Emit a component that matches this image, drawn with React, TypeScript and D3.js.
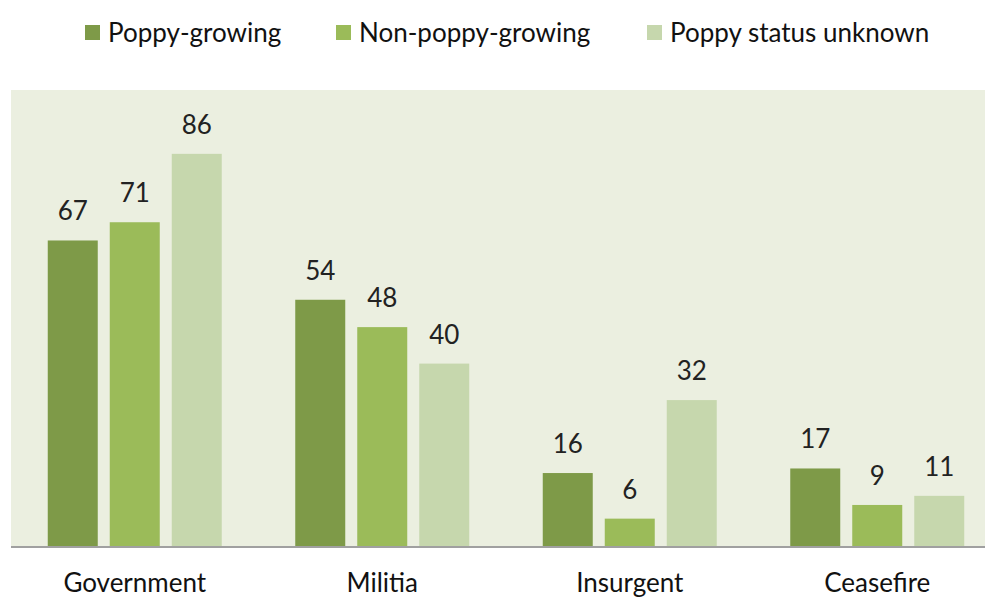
import React from "react";
import * as d3 from "d3";

const categories = ["Government", "Militia", "Insurgent", "Ceasefire"];
const seriesNames = ["Poppy-growing", "Non-poppy-growing", "Poppy status unknown"];
const poppyGrowing = [67, 54, 16, 17];
const nonPoppyGrowing = [71, 48, 6, 9];
const poppyUnknown = [86, 40, 32, 11];
const colors = ["#7e9a48", "#9bbb59", "#c6d7ad"];

const W = 985;
const H = 597;
const FONT = "Lato, 'Open Sans', sans-serif";

export default function App() {
  const series = [poppyGrowing, nonPoppyGrowing, poppyUnknown];
  const plotLeft = 11;
  const plotRight = 1001;
  const plotTop = 90;
  const baseY = 546;
  const x0 = d3.scaleBand<string>().domain(categories).range([plotLeft, plotRight]).paddingInner(0).paddingOuter(0);
  const groupW = 174;
  const x1 = d3.scaleBand<string>().domain(seriesNames).range([0, groupW]).paddingInner(12 / 62).paddingOuter(0);
  const y = d3.scaleLinear().domain([0, 100]).range([baseY, plotTop]);
  const legendX = [85, 336, 647];

  return (
    <svg width={W} height={H} style={{ position: "absolute", left: 0, top: 0, display: "block" }}>
      <rect x={0} y={0} width={W} height={H} fill="#ffffff" />
      <rect x={plotLeft} y={plotTop} width={W - plotLeft} height={baseY - plotTop} fill="#ebefe0" />
      {categories.map((c, ci) => {
        const gx = (x0(c) as number) + x0.bandwidth() / 2 - groupW / 2;
        return (
          <g key={c}>
            {series.map((s, si) => {
              const bx = gx + (x1(seriesNames[si]) as number);
              const v = s[ci];
              return (
                <g key={si}>
                  <rect x={bx} y={y(v)} width={x1.bandwidth()} height={baseY - y(v)} fill={colors[si]} />
                  <text x={bx + x1.bandwidth() / 2} y={y(v) - 20} textAnchor="middle" fontFamily={FONT} fontSize={26} fill="#222">
                    {v}
                  </text>
                </g>
              );
            })}
            <text x={(x0(c) as number) + x0.bandwidth() / 2} y={592} textAnchor="middle" fontFamily={FONT} fontSize={26} fill="#111">
              {c}
            </text>
          </g>
        );
      })}
      <line x1={plotLeft} x2={W} y1={baseY + 1} y2={baseY + 1} stroke="#a0a0a0" strokeWidth={2} />
      {seriesNames.map((n, i) => (
        <g key={n}>
          <rect x={legendX[i]} y={25} width={15} height={15} fill={colors[i]} />
          <text x={legendX[i] + 23} y={42} fontFamily={FONT} fontSize={26} fill="#111">
            {n}
          </text>
        </g>
      ))}
    </svg>
  );
}
